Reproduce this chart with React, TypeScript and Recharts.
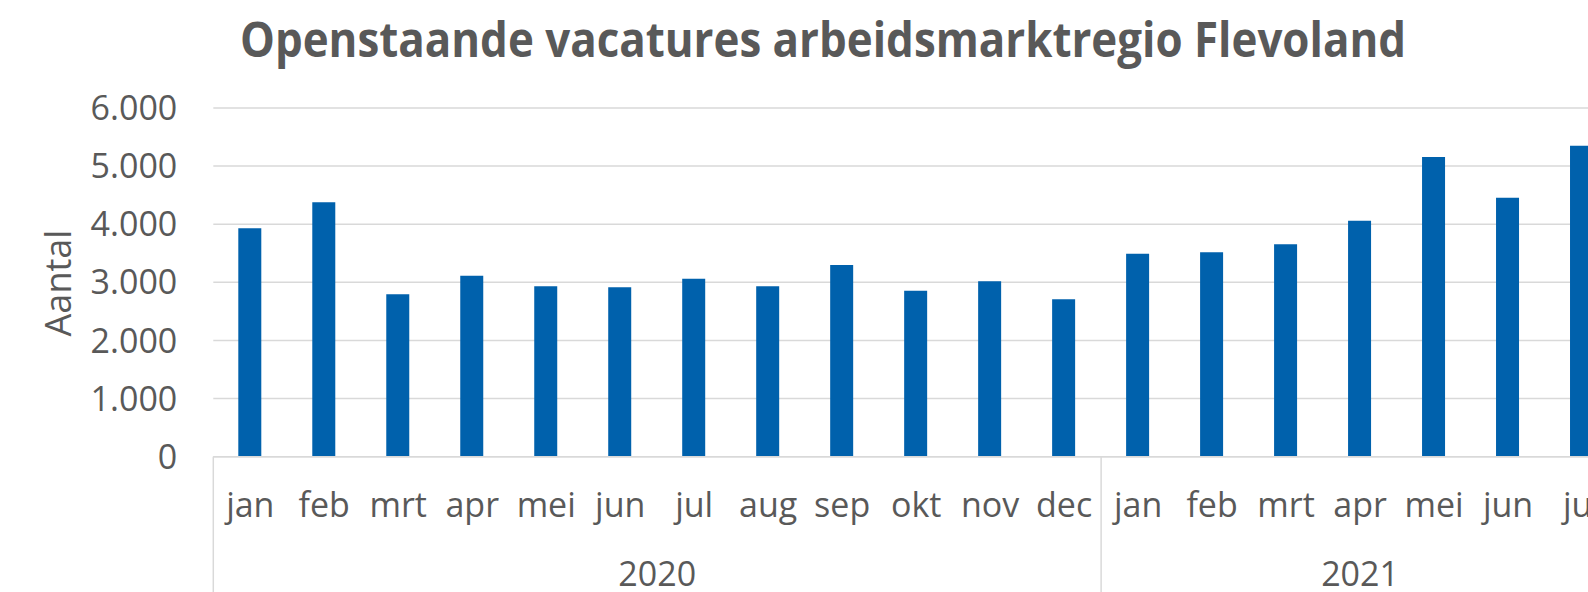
import { BarChart, Bar, XAxis, YAxis, CartesianGrid } from "recharts";

const MONTHS_2020 = ["jan", "feb", "mrt", "apr", "mei", "jun", "jul", "aug", "sep", "okt", "nov", "dec"];
const VALUES_2020 = [3930, 4380, 2795, 3115, 2935, 2915, 3060, 2935, 3300, 2855, 3020, 2710];
const MONTHS_2021 = ["jan", "feb", "mrt", "apr", "mei", "jun", "jul"];
const VALUES_2021 = [3490, 3520, 3655, 4060, 5155, 4455, 5350];
const YEARS = ["2020", "2021"];
const Y_TICKS = [0, 1000, 2000, 3000, 4000, 5000, 6000];

const TITLE = "Openstaande vacatures arbeidsmarktregio Flevoland";
const TEXT = "#595959";
const GRID = "#d9d9d9";
const BAR = "#0061ac";
const FONT = "'Open Sans', 'Noto Sans', sans-serif";

// chart is wider than the window: the last months fall off the right edge
const CHART_W = 1660;
const CHART_H = 592;
const Y_AXIS_W = 213.3;
const RIGHT = 41;
const TOP = 108;
const X_AXIS_H = 135.3;

const groups = [
  { year: YEARS[0], months: MONTHS_2020, values: VALUES_2020 },
  { year: YEARS[1], months: MONTHS_2021, values: VALUES_2021 },
];

const data = groups.flatMap((g) =>
  g.months.map((m, i) => ({
    month: m,
    year: g.year,
    value: g.values[i],
    first: i === 0,
    count: g.months.length,
    key: `${g.year}-${m}`,
  }))
);

const BAND = (CHART_W - Y_AXIS_W - RIGHT) / data.length;

const fmt = (v: number) => String(v).replace(/\B(?=(\d{3})+(?!\d))/g, ".");

function MonthTick(props: any) {
  const { x, y, payload } = props;
  const row = data[payload.index];
  if (!row) return null;
  const left = x - BAND / 2;
  return (
    <g>
      <text x={x} y={y + 60} textAnchor="middle" fill={TEXT} fontSize={34} fontFamily={FONT}>
        {row.month}
      </text>
      {row.first && (
        <>
          <line x1={left} x2={left} y1={y} y2={y + 160} stroke={GRID} strokeWidth={1.5} />
          <text
            x={left + (row.count * BAND) / 2}
            y={y + 129}
            textAnchor="middle"
            fill={TEXT}
            fontSize={34}
            fontFamily={FONT}
          >
            {row.year}
          </text>
        </>
      )}
    </g>
  );
}

export default function App() {
  return (
    <div
      style={{
        position: "absolute",
        left: 0,
        top: 0,
        width: 1588,
        height: 592,
        overflow: "hidden",
        background: "#fff",
        fontFamily: FONT,
      }}
    >
      <BarChart
        width={CHART_W}
        height={CHART_H}
        data={data}
        margin={{ top: TOP, right: RIGHT, left: 0, bottom: 0 }}
      >
        <CartesianGrid vertical={false} stroke={GRID} strokeWidth={1.5} />
        <XAxis
          dataKey="key"
          interval={0}
          height={X_AXIS_H}
          tickLine={false}
          tickSize={0}
          tickMargin={0}
          axisLine={{ stroke: GRID, strokeWidth: 1.5 }}
          tick={<MonthTick />}
        />
        <YAxis
          width={Y_AXIS_W}
          domain={[0, 6000]}
          ticks={Y_TICKS}
          axisLine={false}
          tickLine={false}
          tickMargin={30}
          tickFormatter={fmt}
          tick={{ fill: TEXT, fontSize: 34, fontFamily: FONT }}
          label={{
            content: () => (
              <text
                x={57}
                y={283}
                transform="rotate(-90 57 283)"
                textAnchor="middle"
                dominantBaseline="central"
                fill={TEXT}
                fontSize={36}
                fontFamily={FONT}
              >
                Aantal
              </text>
            ),
          }}
        />
        <Bar dataKey="value" fill={BAR} barSize={23} isAnimationActive={false} />
      </BarChart>
      <svg width={1588} height={80} style={{ position: "absolute", left: 0, top: 0 }}>
        <text
          x={823}
          y={56.7}
          textAnchor="middle"
          fill={TEXT}
          fontSize={48}
          fontWeight={700}
          fontFamily={FONT}
          textLength={1166}
          lengthAdjust="spacingAndGlyphs"
        >
          {TITLE}
        </text>
      </svg>
    </div>
  );
}
